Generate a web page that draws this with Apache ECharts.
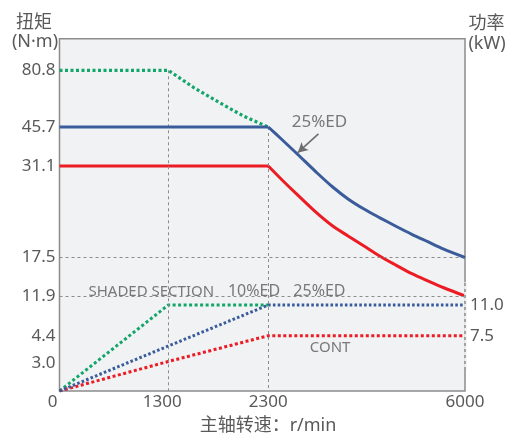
<!DOCTYPE html>
<html><head><meta charset="utf-8">
<script src="https://cdn.jsdelivr.net/npm/echarts@6/dist/echarts.min.js"></script>
<style>html,body{margin:0;padding:0;background:#fff}#c{width:509px;height:438px}</style>
</head><body><div id="c"></div>
<script>
// ---- Axis ticks (schematic, non-linear axes) ----
const rpmTicks = [0, 1300, 2300, 6000];
const rpmTickLabels = ['0', '1300', '2300', '6000'];
const rpmScale = [0, 26.83, 51.49, 100];            // axis fraction (%) at each rpm tick

const torqueTicks = [3.0, 4.4, 11.9, 17.5, 31.1, 45.7, 80.8];
const torqueTickLabels = ['3.0', '4.4', '11.9', '17.5', '31.1', '45.7', '80.8'];
const torqueKnots = [0, 3.0, 4.4, 11.9, 17.5, 31.1, 45.7, 80.8];
const torqueScale = [0, 7.95, 15.61, 26.97, 37.89, 63.87, 74.94, 91.03];

const powerTicks = [7.5, 11.0];
const powerTickLabels = ['7.5', '11.0'];
const powerKnots = [0, 7.5, 11.0];
const powerScale = [0, 15.70, 24.41];

// ---- Series values ----
// Torque (N·m) vs speed (r/min)
const rpm10 = [0, 1300, 1550, 1800, 2050, 2300];
const torque10 = [80.8, 80.8, 70.3, 61.2, 52.5, 45.7];                 // 10%ED (dotted green)
const rpmCurve = [0, 2300, 2550, 2850, 3200, 3500, 3800, 4100, 4400, 4700, 5000, 5300, 5600, 6000];
const torque25 = [45.7, 45.7, 41.1, 35.5, 30.2, 28.05, 26.2, 24.7, 23.4, 22.15, 20.95, 19.85, 18.75, 17.5];   // 25%ED
const torqueCont = [31.1, 31.1, 29.1, 26.8, 24.2, 22.25, 20.7, 19.2, 17.7, 16.4, 15.15, 14.1, 13.1, 11.9]; // CONT
// Power (kW) vs speed
const rpmPower10 = [0, 1300, 2300];
const power10 = [0, 11.0, 11.0];
const rpmPower = [0, 1300, 2300, 6000];
const power25 = [0, 6.1, 11.0, 11.0];
const powerCont = [0, 4.0, 7.5, 7.5];

// ---- scale helpers (piecewise-linear schematic scales) ----
function interp(v, knots, levels) {
  let i = 1;
  while (i < knots.length - 1 && v > knots[i]) i++;
  const k0 = knots[i - 1], k1 = knots[i], l0 = levels[i - 1], l1 = levels[i];
  return l0 + (v - k0) * (l1 - l0) / (k1 - k0);
}
const xl = r => interp(r, rpmTicks, rpmScale);
const tl = t => interp(t, torqueKnots, torqueScale);
const pl = p => interp(p, powerKnots, powerScale);
const pts = (xs, ys, f) => xs.map((x, i) => [xl(x), f(ys[i])]);

const FONT = '"Noto Sans", "Noto Sans CJK SC", sans-serif';
const TXT = '#595959';
const C_BLUE = '#3a5c9b', C_RED = '#ec1c24', C_GREEN = '#12a66a';
const GRIDC = '#8c8c8c';

function labelFor(values, labels) {
  return v => {
    for (let i = 0; i < values.length; i++) if (Math.abs(values[i] - v) < 1e-6) return labels[i];
    return '';
  };
}
const xVals = rpmTicks.map(xl);
const xLab = labelFor(xVals, rpmTickLabels);

// torque curves: flat part (straight) + constant-power part (smoothed)
const blueAll = pts(rpmCurve, torque25, tl);
const redAll = pts(rpmCurve, torqueCont, tl);

const chart = echarts.init(document.getElementById('c'), null, {renderer: 'canvas'});

const dashed = {color: GRIDC, width: 1, type: [3, 3]};
const gridLines = [
  [{coord: [xl(0), tl(17.5)]}, {coord: [xl(6000), tl(17.5)]}],
  [{coord: [xl(0), tl(11.9)]}, {coord: [xl(6000), tl(11.9)]}],
  [{coord: [xl(1300), tl(80.8)]}, {coord: [xl(1300), 0]}],
  [{coord: [xl(2300), tl(45.7)]}, {coord: [xl(2300), 0]}]
];
const rightDash = [2.85, 13.6]; // kW range where the right border is dashed

const notes = [
  {name: '25%ED', value: [xl(3262), tl(49.0)], size: 17},
  {name: 'SHADED SECTION', value: [xl(1097), tl(12.55)], size: 15},
  {name: '10%ED', value: [xl(2157), tl(12.55)], size: 16},
  {name: '25%ED', value: [xl(3262), tl(12.55)], size: 16},
  {name: 'CONT', value: [xl(3462), pl(5.9)], size: 15}
];

const solid = (c) => ({color: c, width: 3, type: 'solid', join: 'round'});

const option = {
  animation: false,
  backgroundColor: '#ffffff',
  grid: {left: 59.5, top: 38.7, width: 405.5, height: 352.3, show: true,
         backgroundColor: '#f1f2f4', borderColor: GRIDC, borderWidth: 1.5,
         containLabel: false, outerBoundsMode: 'none'},
  xAxis: {
    type: 'value', min: 0, max: 100,
    axisLine: {show: false}, axisTick: {show: false}, splitLine: {show: false},
    axisLabel: {
      customValues: xVals, margin: 3, color: TXT, fontSize: 17, fontFamily: FONT,
      formatter: v => {
        const s = xLab(v);
        if (s === '0') return '{a|0}';
        if (s === '1300') return '{b|1300}';
        return '{n|' + s + '}';
      },
      rich: {
        a: {padding: [0, 14, 0, 0], color: TXT, fontSize: 17, fontFamily: FONT},
        b: {padding: [0, 12, 0, 0], color: TXT, fontSize: 17, fontFamily: FONT},
        n: {color: TXT, fontSize: 17, fontFamily: FONT}
      }
    }
  },
  yAxis: [
    {type: 'value', min: 0, max: 100, position: 'left',
     axisLine: {show: false}, axisTick: {show: false}, splitLine: {show: false},
     axisLabel: {customValues: torqueTicks.map(tl), formatter: labelFor(torqueTicks.map(tl), torqueTickLabels),
                 margin: 4, color: TXT, fontSize: 17, fontFamily: FONT}},
    {type: 'value', min: 0, max: 100, position: 'right',
     axisLine: {show: false}, axisTick: {show: false}, splitLine: {show: false},
     axisLabel: {customValues: powerTicks.map(pl), formatter: labelFor(powerTicks.map(pl), powerTickLabels),
                 margin: 5, color: TXT, fontSize: 17, fontFamily: FONT}}
  ],
  graphic: [
    {type: 'text', x: 34, y: 22.5, style: {text: '扭矩', fill: TXT, fontSize: 18, fontFamily: FONT, align: 'center', verticalAlign: 'middle'}},
    {type: 'text', x: 35, y: 42, style: {text: '(N·m)', fill: TXT, fontSize: 18, fontFamily: FONT, align: 'center', verticalAlign: 'middle'}},
    {type: 'text', x: 486.5, y: 24, style: {text: '功率', fill: TXT, fontSize: 18, fontFamily: FONT, align: 'center', verticalAlign: 'middle'}},
    {type: 'text', x: 487, y: 44, style: {text: '(kW)', fill: TXT, fontSize: 18, fontFamily: FONT, align: 'center', verticalAlign: 'middle'}},
    {type: 'text', x: 268, y: 425.5, style: {text: '主轴转速：r/min', fill: TXT, fontSize: 18, fontFamily: FONT, align: 'center', verticalAlign: 'middle'}}
  ],
  series: [
    // grid lines & right border section
    {type: 'line', data: [], silent: true, z: 1,
     markLine: {silent: true, symbol: 'none', label: {show: false}, lineStyle: dashed, data: gridLines}},
    {type: 'line', data: [], silent: true, z: 1, clip: false,
     markLine: {silent: true, symbol: 'none', label: {show: false},
       lineStyle: {color: '#f1f2f4', width: 2.6, type: 'solid'},
       data: [[{coord: [100, pl(rightDash[0])]}, {coord: [100, pl(rightDash[1])]}]]}},
    {type: 'line', data: [], silent: true, z: 2, clip: false,
     markLine: {silent: true, symbol: 'none', label: {show: false},
       lineStyle: {color: GRIDC, width: 1.5, type: [3, 3]},
       data: [[{coord: [100, pl(rightDash[0])]}, {coord: [100, pl(rightDash[1])]}]]}},
    // power curves
    {name: 'P 10%ED', type: 'line', z: 3, symbol: 'none', data: pts(rpmPower10, power10, pl),
     lineStyle: {color: C_GREEN, width: 3, type: [3, 2.5], cap: 'butt'}},
    {name: 'P CONT', type: 'line', z: 3, symbol: 'none', data: pts(rpmPower, powerCont, pl),
     lineStyle: {color: C_RED, width: 3, type: [3, 2.5], cap: 'butt'}},
    {name: 'P 25%ED', type: 'line', z: 4, symbol: 'none', data: pts(rpmPower, power25, pl),
     lineStyle: {color: C_BLUE, width: 3, type: [2.6, 2.2], cap: 'butt'}},
    // torque curves
    {name: 'T 10%ED', type: 'line', z: 3, symbol: 'none', data: pts(rpm10, torque10, tl),
     lineStyle: {color: C_GREEN, width: 3.2, type: [3, 2.5], cap: 'butt'}},
    {name: 'T CONT flat', type: 'line', z: 4, symbol: 'none', data: redAll.slice(0, 2), lineStyle: solid(C_RED)},
    {name: 'T CONT', type: 'line', z: 4, symbol: 'none', data: redAll.slice(1),
     smooth: 0.3, lineStyle: solid(C_RED)},
    {name: 'T 25%ED flat', type: 'line', z: 5, symbol: 'none', data: blueAll.slice(0, 2), lineStyle: solid(C_BLUE)},
    {name: 'T 25%ED', type: 'line', z: 5, symbol: 'none', data: blueAll.slice(1),
     smooth: 0.3, lineStyle: solid(C_BLUE),
     markLine: {silent: true, symbol: ['none', 'arrow'], symbolSize: [8, 10], label: {show: false},
       lineStyle: {color: '#6e6e6e', width: 1.6, type: 'solid'},
       data: [[{coord: [xl(3243), tl(43.1)]}, {coord: [xl(2854), tl(36.1)]}]]}},
    // text annotations
    {type: 'scatter', z: 6, symbolSize: 1, itemStyle: {color: 'rgba(0,0,0,0)'}, silent: true,
     data: notes.map(n => ({name: n.name, value: n.value,
       label: {show: true, position: 'inside', formatter: '{b}', color: TXT, fontSize: n.size, fontFamily: FONT}}))}
  ]
};
chart.setOption(option);
</script></body></html>
